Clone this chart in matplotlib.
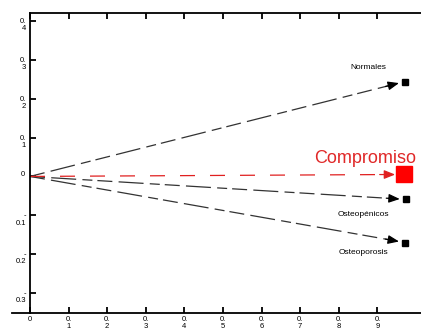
import matplotlib
matplotlib.use("Agg")
import matplotlib.pyplot as plt
import matplotlib.transforms as mtransforms
from matplotlib.lines import Line2D

# ---- data ----
groups = ["Normales", "Osteopénicos", "Osteoporosis"]
group_x = [0.971, 0.973, 0.971]
group_y = [0.244, -0.059, -0.170]
compromiso_x = 0.970
compromiso_y = 0.005
compromiso_label = "Compromiso"

x_ticks = [0.0, 0.1, 0.2, 0.3, 0.4, 0.5, 0.6, 0.7, 0.8, 0.9]
x_tick_labels = ["0", "0.\n1", "0.\n2", "0.\n3", "0.\n4", "0.\n5", "0.\n6", "0.\n7", "0.\n8", "0.\n9"]
y_ticks = [0.4, 0.3, 0.2, 0.1, 0.0, -0.1, -0.2, -0.3]
y_tick_labels = ["0.\n4", "0.\n3", "0.\n2", "0.\n1", "0", "-\n0.1", "-\n0.2", "-\n0.3"]

W, H = 421, 329
fig = plt.figure(figsize=(W / 100, H / 100), dpi=100)
plt.rcParams['font.family'] = ['Liberation Sans', 'DejaVu Sans']

left_px, right_px, top_px, bottom_px = 30, 432, 13, 313
ax = fig.add_axes([left_px / W, 1 - bottom_px / H, (right_px - left_px) / W, (bottom_px - top_px) / H])
ax.set_xlim(0, (right_px - left_px) / 386)
ax.set_ylim(-0.3 - 20 / 389, 0.4 + 8 / 389)

for s in ["left", "bottom", "top", "right"]:
    ax.spines[s].set_linewidth(1.3)
ax.spines["right"].set_visible(False)

ax.set_xticks(x_ticks)
ax.set_xticklabels(x_tick_labels, fontsize=5.5, linespacing=0.9)
ax.set_yticks(y_ticks)
ax.set_yticklabels(y_tick_labels, fontsize=5.5, linespacing=1.05)
ax.tick_params(axis="x", direction="in", length=4, width=1.3, top=True, pad=2.5)
ax.tick_params(axis="y", direction="in", length=4, width=1.3, pad=3)

for lbl in ax.get_yticklabels():
    dy = 3 if lbl.get_text() == "0" else -3
    dx = -1 if lbl.get_text() == "0" else 0
    shift = mtransforms.ScaledTranslation(dx / 100, dy / 100, fig.dpi_scale_trans)
    lbl.set_transform(lbl.get_transform() + shift)

# extension of bottom axis line to the left
ax.add_line(Line2D([-18 / 386, 0], [ax.get_ylim()[0]] * 2, color="black", lw=1.3, clip_on=False))

head = "-|>,head_length=0.55,head_width=0.22"

# group arrows
for gx, gy in zip(group_x, group_y):
    tx = gx - 0.015
    ty = gy * tx / gx
    ax.plot([0, tx - 0.02], [0, gy * (tx - 0.02) / gx], color="#333333", lw=0.9,
            linestyle=(0, (12, 5, 20, 5, 8, 4)))
    ax.annotate("", xy=(tx, ty), xytext=(tx - 0.035, gy * (tx - 0.035) / gx),
                arrowprops=dict(arrowstyle=head, color="black", lw=0.9,
                                mutation_scale=12, shrinkA=0, shrinkB=0))
    ax.plot([gx], [gy], marker="s", color="black", markersize=4.5, linestyle="none")

# compromiso arrow
ctx = compromiso_x - 0.024
cty = compromiso_y * ctx / compromiso_x
ax.plot([0, ctx - 0.02], [0, cty], color="#e02020", lw=0.9, linestyle=(0, (12, 12)))
ax.annotate("", xy=(ctx, cty), xytext=(ctx - 0.04, cty),
            arrowprops=dict(arrowstyle=head, color="#e02020", lw=0.9,
                            mutation_scale=12, shrinkA=0, shrinkB=0))
ax.plot([compromiso_x], [compromiso_y], marker="s", color="#ff0000", markersize=11, linestyle="none")

# labels
ax.text(0.876, 0.280, groups[0], fontsize=6, ha="center", va="center")
ax.text(0.863, -0.098, groups[1], fontsize=6, ha="center", va="center")
ax.text(0.863, -0.195, groups[2], fontsize=6, ha="center", va="center")
ax.text(0.868, 0.045, compromiso_label, fontsize=13, color="#e02828", ha="center", va="center")

fig.savefig("out.png", dpi=100)
